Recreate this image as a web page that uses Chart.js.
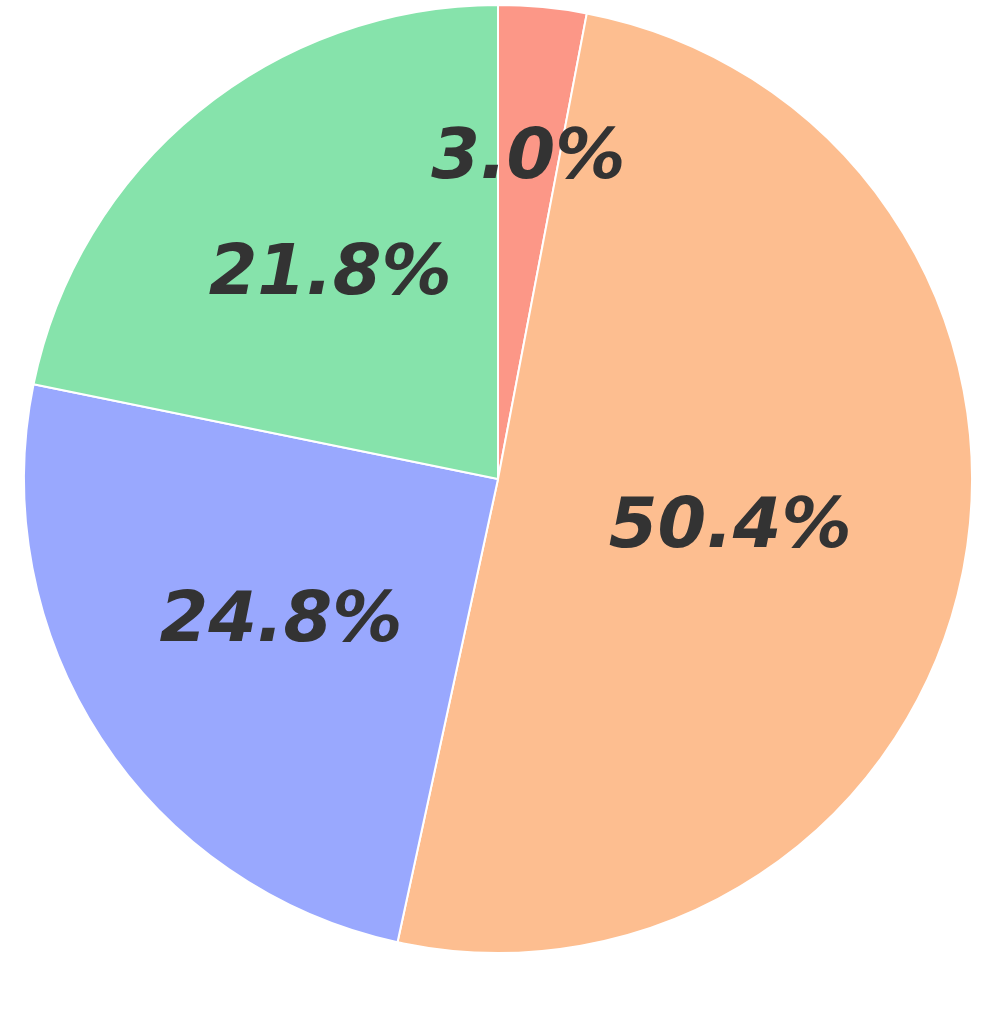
<!DOCTYPE html>
<html>
<head>
<meta charset="utf-8">
<script src="https://cdn.jsdelivr.net/npm/chart.js@4.4.1/dist/chart.umd.min.js"></script>
<style>
  html, body { margin: 0; padding: 0; background: #ffffff; }
  #wrap { width: 996px; height: 1018px; }
</style>
</head>
<body>
<div id="wrap">
  <canvas id="pie" width="996" height="1018"></canvas>
</div>
<script>
// slice data, clockwise from 12 o'clock
const categories = ["A", "B", "C", "D"];
const shares = [3.0, 50.4, 24.8, 21.8];
const sliceColors = ["#fc9787", "#fdbe90", "#99a8fe", "#86e3ab"];
// how far out (fraction of radius) each percent label sits
const labelRadius = [0.68, 0.5, 0.547, 0.56];

const pctLabels = {
    id: "pctLabels",
    afterDatasetsDraw(chart) {
        const ctx = chart.ctx;
        const meta = chart.getDatasetMeta(0);
        ctx.save();
        ctx.font = "bold italic 70px 'DejaVu Sans'";
        ctx.fillStyle = "#333333";
        ctx.textAlign = "center";
        ctx.textBaseline = "middle";
        meta.data.forEach((arc, i) => {
            const p = arc.getProps(["x", "y", "startAngle", "endAngle", "outerRadius"], true);
            const mid = (p.startAngle + p.endAngle) / 2;
            const r = p.outerRadius * labelRadius[i];
            const x = p.x + Math.cos(mid) * r;
            const y = p.y + Math.sin(mid) * r + 2;
            ctx.fillText(shares[i].toFixed(1) + "%", x, y);
        });
        ctx.restore();
    }
};

new Chart(document.getElementById("pie").getContext("2d"), {
    type: "pie",
    data: {
        labels: categories,
        datasets: [{
            data: shares,
            backgroundColor: sliceColors,
            borderColor: "#ffffff",
            borderWidth: 2
        }]
    },
    options: {
        responsive: false,
        animation: false,
        layout: {
            padding: { left: 23, right: 23, top: 4, bottom: 64 }
        },
        plugins: {
            legend: { display: false },
            tooltip: { enabled: false }
        }
    },
    plugins: [pctLabels]
});
</script>
</body>
</html>
